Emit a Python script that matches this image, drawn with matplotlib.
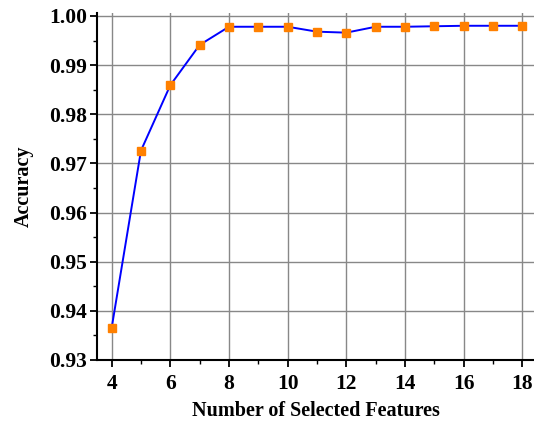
import matplotlib
matplotlib.use('Agg')
import matplotlib.pyplot as plt
from matplotlib.ticker import MultipleLocator

# Dados
features = [4, 5, 6, 7, 8, 9, 10, 11, 12, 13, 14, 15, 16, 17, 18]
accuracy = [0.9365, 0.9726, 0.9859, 0.9941, 0.9978, 0.9978, 0.9978, 0.9968,
            0.9966, 0.9978, 0.9978, 0.9979, 0.9980, 0.9980, 0.9980]

plt.rcParams['font.family'] = ['Liberation Serif', 'DejaVu Serif']
plt.rcParams['font.weight'] = 'bold'

fig = plt.figure(figsize=(5.34, 4.26), dpi=100)
ax = fig.add_axes([0.1816, 0.155, 0.8184, 0.8145])

ax.plot(features, accuracy, color='#0000ff', linewidth=1.4,
        marker='s', markersize=6.2, markerfacecolor='#ff8000',
        markeredgecolor='#ff8000', zorder=3)

ax.set_xlim(3.5, 18.4)
ax.set_ylim(0.93, 1.0006)
ax.xaxis.set_major_locator(MultipleLocator(2))
ax.xaxis.set_minor_locator(MultipleLocator(1))
ax.yaxis.set_major_locator(MultipleLocator(0.01))
ax.yaxis.set_minor_locator(MultipleLocator(0.005))
ax.yaxis.set_major_formatter(plt.FormatStrFormatter('%.2f'))

ax.grid(True, which='major', color='#888888', linewidth=1.0)
ax.spines['top'].set_visible(False)
ax.spines['right'].set_visible(False)
ax.spines['left'].set_linewidth(1.5)
ax.spines['bottom'].set_linewidth(1.5)
ax.tick_params(which='major', direction='out', length=5, width=1.3, labelsize=15.5)
ax.tick_params(axis='y', which='major', pad=2)
ax.tick_params(axis='x', which='major', pad=5)
ax.tick_params(which='minor', direction='out', length=3, width=1.0)

ax.set_xlabel('Number of Selected Features', fontsize=14.5, fontweight='bold', labelpad=5)
ax.set_ylabel('Accuracy', fontsize=14.5, fontweight='bold', labelpad=11)

fig.savefig('out.png', dpi=100)
